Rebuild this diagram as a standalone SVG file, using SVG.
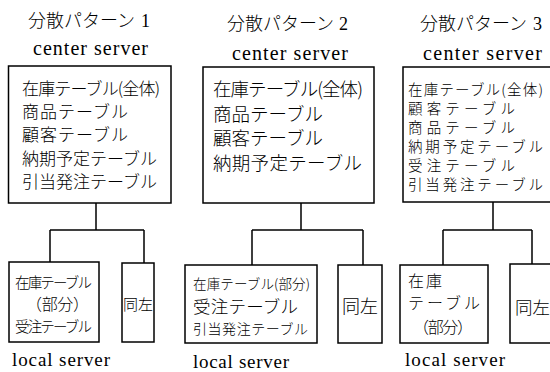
<svg xmlns="http://www.w3.org/2000/svg" width="550" height="372" viewBox="0 0 550 372">
<style>
.box{fill:none;stroke:#000;stroke-width:1.5}
.ln{fill:none;stroke:#000;stroke-width:1.5}
.jp{font-family:"Noto Sans CJK JP","Noto Sans CJK SC",sans-serif;font-weight:300;fill:#000}
.en{font-family:"Liberation Serif",serif;font-weight:normal;fill:#000}
</style>
<rect width="550" height="372" fill="#fff"/>

<g id="titles">
<text class="jp" x="28" y="27" font-size="18">分散パターン<tspan class="en" dx="6">1</tspan></text>
<text class="en" x="33" y="55" font-size="20" textLength="115">center server</text>
<text class="jp" x="227" y="30" font-size="18">分散パターン<tspan class="en" dx="5">2</tspan></text>
<text class="en" x="232" y="60" font-size="20" textLength="116">center server</text>
<text class="jp" x="420" y="30" font-size="18">分散パターン<tspan class="en" dx="6">3</tspan></text>
<text class="en" x="423" y="60" font-size="20" textLength="119">center server</text>
</g>

<g id="center1">
<rect class="box" x="8.5" y="66" width="162.5" height="137"/>
<text class="jp" font-size="17">
<tspan x="22" y="95" textLength="138">在庫テーブル(全体)</tspan>
<tspan x="22" y="118" textLength="106">商品テーブル</tspan>
<tspan x="22" y="141" textLength="106">顧客テーブル</tspan>
<tspan x="22" y="165" textLength="135">納期予定テーブル</tspan>
<tspan x="22" y="188" textLength="135">引当発注テーブル</tspan>
</text>
</g>

<g id="center2">
<rect class="box" x="203" y="67" width="171" height="136"/>
<text class="jp" font-size="18.5">
<tspan x="213" y="96" textLength="150">在庫テーブル(全体)</tspan>
<tspan x="213" y="121" textLength="110">商品テーブル</tspan>
<tspan x="213" y="145" textLength="110">顧客テーブル</tspan>
<tspan x="213" y="170" textLength="149">納期予定テーブル</tspan>
</text>
</g>

<g id="center3">
<rect class="box" x="403" y="67" width="160" height="135"/>
<text class="jp" font-size="14.5">
<tspan x="408" y="95" textLength="135">在庫テーブル(全体)</tspan>
<tspan x="408" y="114" textLength="107">顧客テーブル</tspan>
<tspan x="408" y="133" textLength="107">商品テーブル</tspan>
<tspan x="408" y="152" textLength="135">納期予定テーブル</tspan>
<tspan x="408" y="171" textLength="107">受注テーブル</tspan>
<tspan x="408" y="190" textLength="135">引当発注テーブル</tspan>
</text>
</g>

<g id="connectors">
<path class="ln" d="M96 203 V230 M50 230 H144 M50 230 V262 M144 230 V263"/>
<path class="ln" d="M301 203 V230 M252 230 H363 M252 230 V265 M363 230 V265"/>
<path class="ln" d="M493 202 V230 M443 230 H532 M443 230 V265 M532 230 V264"/>
</g>

<g id="local1a">
<rect class="box" x="9" y="262" width="90" height="80"/>
<text class="jp">
<tspan x="15" y="288" font-size="14.5" textLength="77">在庫テーブル</tspan>
<tspan x="26" y="310" font-size="16" textLength="63">（部分）</tspan>
<tspan x="15" y="332" font-size="14.5" textLength="77">受注テーブル</tspan>
</text>
</g>
<g id="local1b">
<rect class="box" x="122" y="263" width="32" height="79"/>
<text class="jp" x="138" y="310" font-size="15" text-anchor="middle">同左</text>
</g>

<g id="local2a">
<rect class="box" x="185" y="265" width="132" height="78"/>
<text class="jp">
<tspan x="193" y="289" font-size="13.5" textLength="117">在庫テーブル(部分)</tspan>
<tspan x="193" y="313" font-size="17.5" textLength="105">受注テーブル</tspan>
<tspan x="193" y="334" font-size="14" textLength="115">引当発注テーブル</tspan>
</text>
</g>
<g id="local2b">
<rect class="box" x="338" y="265" width="44" height="78"/>
<text class="jp" x="360" y="313" font-size="18" text-anchor="middle">同左</text>
</g>

<g id="local3a">
<rect class="box" x="400" y="265" width="88" height="78"/>
<text class="jp" font-size="16">
<tspan x="408" y="287" textLength="34">在庫</tspan>
<tspan x="408" y="309" textLength="72">テーブル</tspan>
<tspan x="413" y="333" textLength="60">（部分）</tspan>
</text>
</g>
<g id="local3b">
<rect class="box" x="510" y="264" width="50" height="79"/>
<text class="jp" x="515" y="314" font-size="17.5">同左</text>
</g>

<g id="labels">
<text class="en" x="12" y="366" font-size="19" textLength="98">local server</text>
<text class="en" x="193" y="368" font-size="19" textLength="96">local server</text>
<text class="en" x="405" y="366" font-size="19" textLength="100">local server</text>
</g>
</svg>
